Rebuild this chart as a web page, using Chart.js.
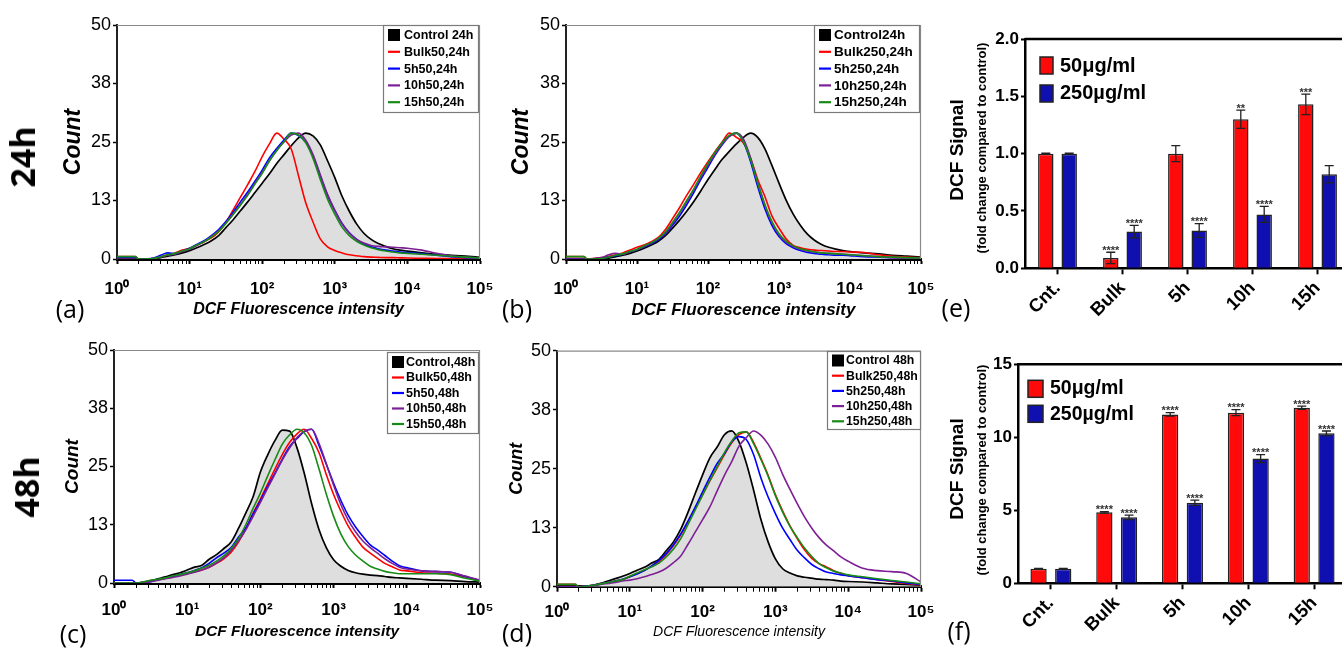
<!DOCTYPE html>
<html><head><meta charset="utf-8">
<script src="https://cdn.jsdelivr.net/npm/chart.js@4.4.1/dist/chart.umd.min.js"></script>
<style>
html,body{margin:0;padding:0;width:1342px;height:649px;overflow:hidden;background:#fff;position:relative}
.wrap{position:absolute}
.wrap canvas{display:block}
.lbl{position:absolute;transform:translate(-50%,-50%);font-family:'Open Sans',Lato,sans-serif;color:#000;white-space:nowrap;line-height:1}
.row{font-weight:bold;font-size:34px;transform:translate(-50%,-50%) rotate(-90deg)}
.pl{font-size:25px}
</style></head><body>
<div class="wrap" style="left:0;top:0"><canvas id="cA" width="505" height="325"></canvas></div>
<div class="wrap" style="left:490px;top:0"><canvas id="cB" width="455" height="325"></canvas></div>
<div class="wrap" style="left:0;top:325px"><canvas id="cC" width="505" height="324"></canvas></div>
<div class="wrap" style="left:490px;top:325px"><canvas id="cD" width="455" height="324"></canvas></div>
<div class="wrap" style="left:930px;top:0"><canvas id="cE" width="430" height="325"></canvas></div>
<div class="wrap" style="left:930px;top:325px"><canvas id="cF" width="430" height="324"></canvas></div>
<div class="lbl row" style="left:22px;top:157px">24h</div>
<div class="lbl row" style="left:26px;top:487px">48h</div>
<div class="lbl pl" style="left:70px;top:308px">(a)</div>
<div class="lbl pl" style="left:517px;top:308px">(b)</div>
<div class="lbl pl" style="left:73px;top:633px">(c)</div>
<div class="lbl pl" style="left:517px;top:632px">(d)</div>
<div class="lbl pl" style="left:956px;top:307px">(e)</div>
<div class="lbl pl" style="left:959px;top:630px">(f)</div>
<script>
// ---------- DATA ----------
const logGrid = [0,0.25,0.3,0.5,0.6,0.7,0.8,0.9,1.0,1.1,1.2,1.3,1.4,1.5,1.6,1.7,1.8,1.9,2.0,2.1,2.2,2.3,2.4,2.5,2.6,2.7,2.8,2.9,3.0,3.1,3.2,3.3,3.4,3.5,3.6,3.7,3.8,3.9,4.0,4.2,4.4,4.6,4.8,5.0];
const xTickExps = [0,1,2,3,4,5];
const yCountTicks = [0,12.5,25,37.5,50];

const labelsA = ['Control 24h','Bulk50,24h','5h50,24h','10h50,24h','15h50,24h'];
const a_ctrl = [0,0,0, 0,0.3,0.6,0.9,1.3,1.8,2.4,3.1,3.9,5.0, 6.7,8.4,10.3,12.2,14.2,16.2,18.2,20.4,22.3,24.2, 25.9,26.9,26.3,24.4,21.0,17.4,13.4,10.2,7.5,5.5, 4.2,3.3,2.7,2.2,1.9,1.7,1.3,1.0,0.8,0.6, 0.35];
const a_bulk = [0.5,0.5,0, 0.1,0.5,0.9,1.3,1.9,2.3,3.0,3.7,4.5,5.8, 7.8,10.5,13.2,15.9,18.7,21.9,24.6,26.9,25.6,23.5, 17.8,12.0,7.9,4.3,2.6,1.8,1.3,0.9,0.7,0.5, 0.4,0.35,0.3,0.3,0.25,0.2,0.15,0.1,0.1,0.05, 0];
const a_5h = [0.4,0.4,0, 0.2,0.8,1.3,1.1,1.7,2.3,3.1,3.9,5.0,6.3, 8.0,10.0,12.2,14.3,16.6,19.0,21.6,23.6,25.4,26.9, 26.4,25.0,22.0,17.8,13.6,10.4,7.6,5.6,4.2,3.2, 2.6,2.2,1.9,1.7,1.5,1.4,1.1,0.8,0.5,0.3, 0.2];
const a_10h = [0,0,0, 0.1,0.4,0.8,1.1,1.6,2.1,2.9,3.7,4.8,6.0, 7.7,9.6,11.6,13.8,16.2,18.5,21.0,23.2,25.0,26.5, 26.9,25.4,22.3,18.0,13.8,10.4,7.5,5.5,4.2,3.4, 2.9,2.7,2.6,2.5,2.4,2.3,1.9,1.2,0.7,0.4, 0.2];
const a_15h = [0.5,0.5,0, 0.1,0.5,0.9,1.2,1.7,2.2,3.0,3.7,4.7,5.9, 7.6,9.5,11.5,13.6,16.0,18.3,21.0,23.2,25.1,26.9, 26.5,24.8,21.5,17.0,12.8,9.6,6.8,5.0,3.8,3.0, 2.4,2.0,1.7,1.5,1.3,1.2,1.0,0.8,0.6,0.4, 0.2];

const labelsB = ['Control24h','Bulk250,24h','5h250,24h','10h250,24h','15h250,24h'];
const b_ctrl = [0,0,0, 0,0.2,0.5,0.8,1.2,1.7,2.3,3.0,3.8,5.0, 6.6,8.3,10.2,12.3,14.6,17.0,19.2,21.3,23.0,24.6, 26.0,26.9,26.0,23.6,20.0,16.2,12.6,9.6,7.2,5.3, 4.0,3.1,2.5,2.1,1.8,1.6,1.3,1.1,0.8,0.6, 0.4];
const b_bulk = [0.5,0.5,0, 0.3,0.6,0.9,1.3,1.9,2.5,3.0,3.7,4.6,6.3, 8.6,11.0,13.6,16.0,18.5,20.8,23.0,25.0,26.9,26.0, 24.8,21.5,17.0,13.4,9.2,6.6,4.3,2.9,2.4,2.1, 1.9,1.8,1.7,1.6,1.6,1.5,1.4,0.9,0.6,0.4, 0.3];
const b_5h = [0,0,0, 0.2,0.4,0.7,1.0,1.5,2.0,2.6,3.3,4.1,5.4, 7.2,9.2,11.6,14.2,17.0,19.6,22.2,24.4,26.2,26.9, 25.0,20.8,15.5,10.8,7.2,4.8,3.3,2.4,1.8,1.4, 1.2,1.0,0.9,0.8,0.8,0.7,0.5,0.4,0.3,0.2, 0.1];
const b_10h = [0,0,0, 0.3,0.9,1.2,1.0,1.6,2.0,2.7,3.4,4.3,5.6, 7.6,9.8,12.2,14.8,17.5,20.0,22.5,24.6,26.2,26.9, 25.6,21.6,16.4,11.6,7.8,5.2,3.6,2.7,2.1,1.7, 1.5,1.3,1.2,1.1,1.0,0.9,0.7,0.5,0.3,0.2, 0.1];
const b_15h = [0.5,0.5,0, 0.1,0.4,0.8,1.1,1.6,2.1,2.8,3.5,4.4,5.8, 7.8,10.0,12.5,15.0,17.8,20.4,22.8,24.9,26.4,26.9, 25.0,21.2,16.2,11.6,8.0,5.4,3.8,2.8,2.2,1.8, 1.5,1.3,1.2,1.1,1.0,0.9,0.7,0.5,0.4,0.3, 0.2];

const labelsC = ['Control,48h','Bulk50,48h','5h50,48h','10h50,48h','15h50,48h'];
const c_ctrl = [0,0,0, 0.5,0.9,1.3,1.8,2.2,2.8,3.4,3.8,5.1,6.1, 7.4,8.8,11.7,15.0,18.5,23.8,27.5,30.6,32.8,32.6, 29.0,23.5,17.0,11.5,7.6,5.0,3.6,2.7,2.2,1.9, 1.7,1.6,1.4,1.2,1.1,1.0,0.8,0.6,0.5,0.3, 0.2];
const c_bulk = [0,0,0, 0.4,0.7,1.0,1.3,1.7,2.0,2.4,2.8,3.4,4.2, 5.2,6.6,8.8,11.6,15.0,18.0,21.3,24.5,27.6,30.2, 32.0,33.0,31.0,28.0,23.3,19.0,15.4,12.2,9.8,7.7, 6.4,5.3,4.2,3.5,2.8,2.6,2.2,2.1,1.9,1.3, 0.5];
const c_5h = [0.6,0.6,0, 0.3,0.7,1.0,1.4,1.8,2.2,2.7,3.3,4.2,5.4, 6.4,7.6,9.8,11.8,14.8,17.7,20.8,23.6,26.6,29.3, 31.0,32.5,33.0,29.5,25.5,21.4,17.7,14.5,12.0,10.0, 8.2,7.1,5.9,4.7,3.7,3.3,2.6,2.45,2.3,1.4, 0.5];
const c_10h = [0,0,0, 0.3,0.6,0.9,1.2,1.5,1.9,2.3,2.8,3.4,4.3, 5.4,7.0,9.0,11.4,14.3,17.3,20.4,23.4,26.4,29.0, 31.2,32.6,33.0,30.0,25.6,21.0,16.8,13.5,11.0,9.0, 7.6,6.4,5.2,4.2,3.4,3.0,2.6,2.5,2.3,1.5, 0.6];
const c_15h = [0,0,0, 0.6,0.8,1.1,1.5,1.8,2.2,2.6,3.2,3.8,4.7, 5.8,7.4,9.5,12.5,16.0,19.3,23.0,26.5,29.8,31.8, 33.0,32.2,29.5,24.5,19.1,14.3,10.5,7.8,6.0,4.7, 3.6,3.0,2.5,2.2,2.0,2.0,2.0,2.0,1.8,1.0, 0.4];

const labelsD = ['Control 48h','Bulk250,48h','5h250,48h','10h250,48h','15h250,48h'];
const d_ctrl = [0,0,0, 0.3,0.7,1.2,1.7,2.2,2.8,3.5,4.1,5.0,5.8, 7.6,9.5,12.2,15.8,19.8,23.7,27.3,29.6,32.2,33.0, 30.7,26.2,20.5,14.3,9.5,5.9,3.8,2.9,2.3,2.0, 1.8,1.6,1.5,1.4,1.2,1.1,1.0,0.8,0.6,0.5, 0.3];
const d_bulk = [0.5,0.5,0, 0.3,0.6,0.9,1.2,1.5,2.1,2.8,3.5,4.3,5.3, 6.8,8.7,11.0,13.8,16.6,19.5,22.4,25.2,28.0,30.5, 32.2,32.8,30.6,27.2,23.6,19.5,16.0,12.9,10.2,7.8, 6.0,4.9,4.2,3.4,2.8,2.4,1.9,1.5,1.1,0.7, 0.4];
const d_5h = [0,0,0, 0.3,0.6,0.9,1.2,1.6,2.1,2.7,3.4,4.4,5.6, 7.0,8.9,11.2,13.9,16.9,20.1,23.2,26.1,28.2,30.7, 31.8,31.2,28.0,23.1,19.0,15.5,12.4,10.0,7.7,6.1, 4.7,3.8,3.1,2.8,2.5,2.3,1.9,1.5,1.2,0.8, 0.5];
const d_10h = [0,0,0, 0.2,0.5,0.7,0.9,1.2,1.4,1.7,2.1,2.6,3.1, 3.9,5.1,6.5,9.0,11.6,14.2,16.9,20.3,23.6,26.5, 29.8,31.6,33.0,32.1,30.2,27.4,23.8,20.6,17.6,14.8, 12.4,10.4,8.8,7.6,6.3,5.4,3.9,3.4,3.2,2.8, 1.0];
const d_15h = [0.5,0.5,0, 0.3,0.6,0.9,1.2,1.5,2.2,2.9,3.6,4.2,5.0, 6.3,8.0,10.2,13.2,16.3,19.4,22.5,25.4,28.4,30.8, 32.6,32.8,30.3,27.0,23.4,19.3,15.8,12.8,10.4,8.2, 6.4,4.9,4.0,3.3,2.9,2.5,2.1,1.7,1.3,1.0, 0.6];

const categories = ['Cnt.','Bulk','5h','10h','15h'];
const barLabels = ['50μg/ml','250µg/ml'];
const e50 = [1.0, 0.09, 1.0, 1.30, 1.43];
const e50err = [0.005, 0.05, 0.07, 0.08, 0.09];
const e50stars = ['', '****', '', '**', '***'];
const e250 = [1.0, 0.32, 0.33, 0.47, 0.82];
const e250err = [0.005, 0.055, 0.06, 0.07, 0.075];
const e250stars = ['', '****', '****', '****', ''];
const f50 = [1.0, 4.86, 11.57, 11.69, 12.03];
const f50err = [0.02, 0.05, 0.12, 0.2, 0.11];
const f50stars = ['', '****', '****', '****', '****'];
const f250 = [1.0, 4.52, 5.52, 8.54, 10.27];
const f250err = [0.02, 0.15, 0.18, 0.27, 0.16];
const f250stars = ['', '****', '****', '****', '****'];
const eTicks = [0, 0.5, 1.0, 1.5, 2.0];
const fTicks = [0, 5, 10, 15];

// ---------- STYLE ----------
const FONT = "Arial, 'Liberation Sans', Helvetica, sans-serif";
const SUP = ['⁰','¹','²','³','⁴','⁵'];
const lineColors = ['#000000','#ff0000','#0000ff','#7d1f95','#178a17'];
const barColors = ['#ff0a0a','#1010b0'];
Chart.defaults.font.family = FONT;
Chart.defaults.color = '#000';

function pts(vals){ return vals.map((v,i)=>({x: Math.pow(10, logGrid[i]), y: v})); }

function histLegend(o){
  return {id:'histLegend', afterDraw(chart){
    const {ctx, chartArea:a} = chart;
    const x0 = Math.round(a.right - o.dx - o.w), y0 = Math.round(a.top + o.dy);
    ctx.save();
    ctx.fillStyle = '#fff'; ctx.fillRect(x0, y0, o.w, o.h);
    ctx.strokeStyle = '#7a7a7a'; ctx.lineWidth = 1.2; ctx.strokeRect(x0+0.5, y0+0.5, o.w-1, o.h-1);
    ctx.font = 'bold ' + o.fs + 'px ' + FONT; ctx.textBaseline = 'middle'; ctx.textAlign = 'left';
    chart.data.datasets.forEach((ds,i)=>{
      const y = y0 + o.r0 + i*o.rg;
      if (i === 0) { ctx.fillStyle = '#000'; ctx.fillRect(x0+5, y-6, 12, 12); }
      else { ctx.strokeStyle = ds.borderColor; ctx.lineWidth = 2.2; ctx.beginPath(); ctx.moveTo(x0+5, y); ctx.lineTo(x0+17, y); ctx.stroke(); }
      ctx.fillStyle = '#000'; ctx.fillText(ds.label, x0 + o.tx, y + 0.5);
    });
    ctx.restore();
  }};
}
const histFrame = {id:'histFrame', afterDraw(chart){
  const {ctx, chartArea:a} = chart;
  ctx.save(); ctx.strokeStyle = '#8a8a8a'; ctx.lineWidth = 1.2;
  ctx.beginPath(); ctx.moveTo(a.left, a.top+0.5); ctx.lineTo(a.right-0.5, a.top+0.5); ctx.lineTo(a.right-0.5, a.bottom); ctx.stroke();
  ctx.restore();
}};

function histChart(id, labels, series, P){
  const datasets = series.map((vals,i)=>({
    label: labels[i], data: pts(vals), borderColor: lineColors[i], borderWidth: i===0 ? 1.7 : 1.6,
    pointRadius: 0, cubicInterpolationMode: 'monotone',
    fill: i===0 ? 'origin' : false, backgroundColor: i===0 ? '#dedede' : 'transparent',
    order: 5 - i
  }));
  return new Chart(document.getElementById(id), {
    type: 'line',
    data: {datasets},
    options: {
      responsive: false, animation: false, events: [],
      layout: {padding: P.pad},
      plugins: {legend: {display:false}, tooltip: {enabled:false}},
      scales: {
        x: {type:'logarithmic', min:1, max:100000, z:1,
          afterBuildTicks: s => { const t=[]; xTickExps.forEach(e=>{ for(let m=1;m<=9;m++){ const v=m*Math.pow(10,e); if(v<=100000) t.push({value:v}); } }); s.ticks = t; },
          ticks: {autoSkip:false, maxRotation:0, minRotation:0, padding:P.xTickPad, color:'#000', font:{size:17, weight:'bold'},
            callback: v => { const l=Math.log10(v); const r=Math.round(l); return Math.abs(l-r)<1e-6 ? '10'+SUP[r] : ''; }},
          grid: {drawOnChartArea:false, tickLength:5, tickColor:'#000', tickWidth: c => { const l=Math.log10(c.tick.value); return Math.abs(l-Math.round(l))<1e-6 ? 2 : 1; }},
          border: {color:'#000', width:3},
          title: {display:true, text:'DCF Fluorescence intensity', color:'#000', font:P.xtFont, padding:{top:0, bottom:P.xtPad}},
          afterFit: s => { s.height = P.xH; s.paddingLeft = 0; s.paddingRight = 0; }
        },
        y: {min:0, max:50, z:1,
          afterBuildTicks: s => { s.ticks = yCountTicks.map(v=>({value:v})); },
          ticks: {padding:2, color:'#000', font:{size:18}, callback: v => Math.round(v)},
          grid: {drawOnChartArea:false, tickLength:4, tickColor:'#000', tickWidth:1.5},
          border: {color:'#222', width:2},
          title: {display:true, text:'Count', color:'#000', font:{size:P.cFs, weight:'bold', style:'italic'}, padding:{top:P.cPad, bottom:0}},
          afterFit: s => { s.width = P.yW; s.paddingTop = 0; s.paddingBottom = 0; }
        }
      }
    },
    plugins: [histFrame, histLegend(P.legend)]
  });
}

histChart('cA', labelsA, [a_ctrl,a_bulk,a_5h,a_10h,a_15h], {
  pad:{top:25,right:25,left:0,bottom:0}, yW:117, xH:66, xTickPad:15,
  xtFont:{size:16, weight:'bold', style:'italic'}, xtPad:5.4, cFs:23, cPad:60,
  legend:{w:96,h:88,dx:1,dy:0,r0:10,rg:16.8,fs:12.5,tx:21}
});
histChart('cB', labelsB, [b_ctrl,b_bulk,b_5h,b_10h,b_15h], {
  pad:{top:25,right:24,left:0,bottom:0}, yW:76, xH:66, xTickPad:15,
  xtFont:{size:17, weight:'bold', style:'italic'}, xtPad:4.8, cFs:23, cPad:18,
  legend:{w:106,h:88,dx:1,dy:0,r0:10,rg:16.8,fs:13.5,tx:20}
});
histChart('cC', labelsC, [c_ctrl,c_bulk,c_5h,c_10h,c_15h], {
  pad:{top:25,right:25,left:0,bottom:0}, yW:114, xH:66, xTickPad:12,
  xtFont:{size:15.5, weight:'bold', style:'italic'}, xtPad:7.7, cFs:19, cPad:61,
  legend:{w:92,h:82,dx:1,dy:2,r0:10,rg:15.5,fs:12.5,tx:19}
});
histChart('cD', labelsD, [d_ctrl,d_bulk,d_5h,d_10h,d_15h], {
  pad:{top:25.7,right:24,left:0,bottom:0}, yW:67, xH:62.3, xTickPad:10,
  xtFont:{size:14, weight:'normal', style:'italic'}, xtPad:8.6, cFs:18, cPad:16,
  legend:{w:94,h:79,dx:0,dy:0,r0:9.5,rg:15.2,fs:12.3,tx:19}
});

function barDecor(o){
  return {id:'barDecor', afterDatasetsDraw(chart){
    const {ctx, scales:{y}} = chart;
    ctx.save();
    chart.data.datasets.forEach((ds,di)=>{
      const meta = chart.getDatasetMeta(di);
      meta.data.forEach((el,i)=>{
        const v = ds.data[i], e = ds.errors[i];
        const yt = y.getPixelForValue(v+e), yb = y.getPixelForValue(v-e);
        ctx.strokeStyle = '#222'; ctx.lineWidth = 1.3;
        ctx.beginPath();
        ctx.moveTo(el.x, yt); ctx.lineTo(el.x, yb);
        ctx.moveTo(el.x-4.5, yt); ctx.lineTo(el.x+4.5, yt);
        ctx.moveTo(el.x-4.5, yb); ctx.lineTo(el.x+4.5, yb);
        ctx.stroke();
        if (ds.stars[i]) {
          ctx.fillStyle = '#333'; ctx.font = 'bold 11px ' + FONT; ctx.textAlign = 'center'; ctx.textBaseline = 'alphabetic';
          ctx.fillText(ds.stars[i], el.x, yt + 1.5);
        }
      });
    });
    ctx.restore();
  }, afterDraw(chart){
    const {ctx, chartArea:a} = chart;
    ctx.save();
    ctx.strokeStyle = '#000'; ctx.lineWidth = 2.5;
    ctx.beginPath(); ctx.moveTo(a.left, a.top); ctx.lineTo(a.right, a.top); ctx.stroke();
    chart.data.datasets.forEach((ds,i)=>{
      const sx = a.left + o.sqX, sy = a.top + o.sqY[i];
      ctx.fillStyle = ds.backgroundColor; ctx.fillRect(sx, sy, o.sqW, o.sqH);
      ctx.strokeStyle = '#222'; ctx.lineWidth = 1.5; ctx.strokeRect(sx, sy, o.sqW, o.sqH);
      ctx.fillStyle = '#000'; ctx.font = 'bold ' + o.lfs + 'px ' + FONT; ctx.textAlign = 'left'; ctx.textBaseline = 'middle';
      ctx.fillText(ds.label, a.left + o.txX, a.top + o.txY[i]);
    });
    ctx.translate(o.t1[0], o.t1[1]); ctx.rotate(-Math.PI/2);
    ctx.textAlign = 'center'; ctx.textBaseline = 'middle';
    ctx.font = 'bold 19px ' + FONT; ctx.fillText('DCF Signal', 0, 0);
    ctx.rotate(Math.PI/2); ctx.translate(-o.t1[0], -o.t1[1]);
    ctx.translate(o.t2[0], o.t2[1]); ctx.rotate(-Math.PI/2);
    ctx.font = 'bold 13px ' + FONT; ctx.fillText('(fold change compared to control)', 0, 0);
    ctx.restore();
  }};
}

function barChart(id, v50, err50, st50, v250, err250, st250, ticks, P){
  return new Chart(document.getElementById(id), {
    type: 'bar',
    data: {labels: categories, datasets: [
      {label: barLabels[0], data: v50, errors: err50, stars: st50, backgroundColor: barColors[0], borderColor:'#222', borderWidth:1.5, borderSkipped:'bottom'},
      {label: barLabels[1], data: v250, errors: err250, stars: st250, backgroundColor: barColors[1], borderColor:'#222', borderWidth:1.5, borderSkipped:'bottom'}
    ]},
    options: {
      responsive:false, animation:false, events:[],
      categoryPercentage: P.cp, barPercentage: 0.66,
      layout: {padding: P.pad},
      plugins: {legend:{display:false}, tooltip:{enabled:false}},
      scales: {
        x: {z:1,
          ticks: {autoSkip:false, maxRotation:45, minRotation:45, padding:3, color:'#000', font:{size:18.5, weight:'bold'}},
          grid: {offset:false, drawOnChartArea:false, tickLength:6, tickColor:'#000', tickWidth:2},
          border: {color:'#000', width:2.5},
          afterFit: s => { s.height = P.xH; s.paddingLeft = 0; s.paddingRight = 0; }
        },
        y: {min:0, max:ticks[ticks.length-1], z:1,
          afterBuildTicks: s => { s.ticks = ticks.map(v=>({value:v})); },
          ticks: {padding:2, color:'#000', font:{size:17, weight:'bold'}, callback: v => P.dec ? v.toFixed(1) : String(v)},
          grid: {drawOnChartArea:false, tickLength:4, tickColor:'#000', tickWidth:2},
          border: {color:'#000', width:2.5},
          afterFit: s => { s.width = P.yW; s.paddingTop = 0; s.paddingBottom = 0; }
        }
      }
    },
    plugins: [barDecor(P.deco)]
  });
}

barChart('cE', e50, e50err, e50stars, e250, e250err, e250stars, eTicks, {
  pad:{top:39,right:10,left:0,bottom:0}, yW:95, xH:56.7, cp:0.72, dec:true,
  deco:{sqX:15, sqY:[18,46], sqW:13, sqH:17, txX:35, txY:[27,54], lfs:20, t1:[28,150], t2:[52,148]}
});
barChart('cF', f50, f50err, f50stars, f250, f250err, f250stars, fTicks, {
  pad:{top:39.3,right:13,left:0,bottom:0}, yW:88, xH:65.7, cp:0.75, dec:false,
  deco:{sqX:10, sqY:[16,41], sqW:15, sqH:17, txX:32, txY:[24,50], lfs:19.5, t1:[28,144], t2:[52,145]}
});
</script>
</body></html>
